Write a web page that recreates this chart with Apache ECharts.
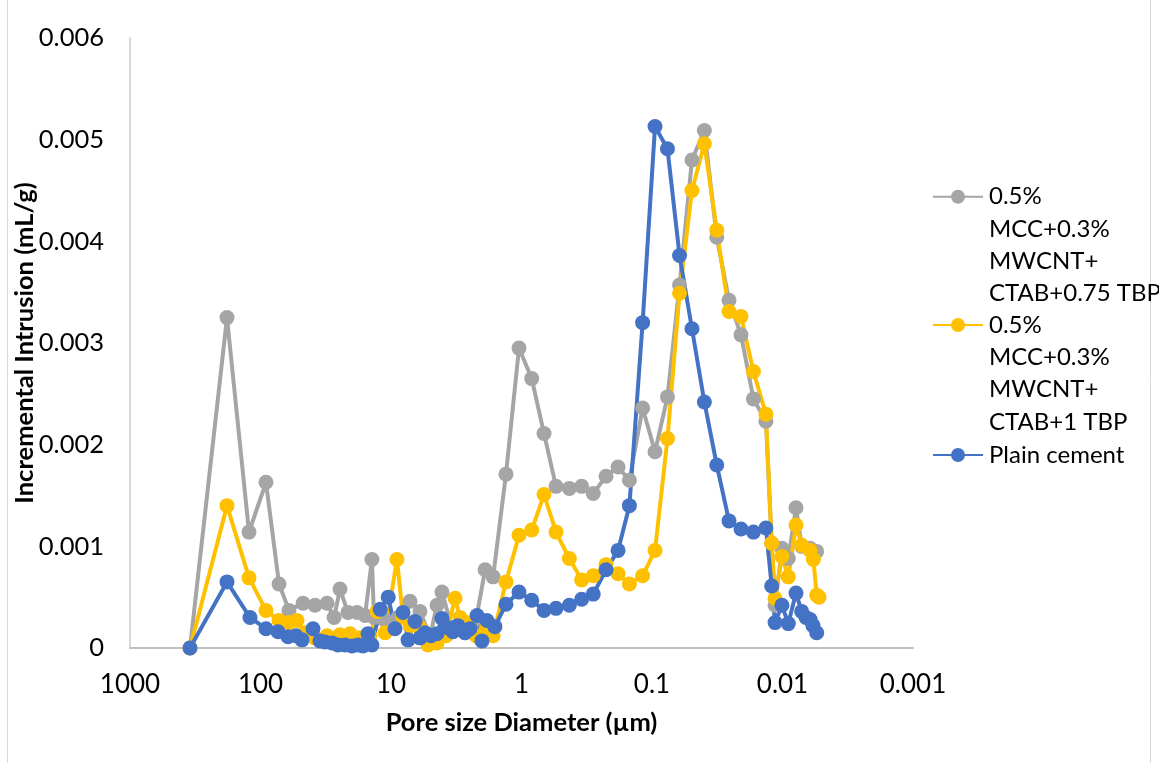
<!DOCTYPE html>
<html>
<head>
<meta charset="utf-8">
<script src="https://cdn.jsdelivr.net/npm/echarts@6/dist/echarts.min.js"></script>
<style>
  html, body { margin: 0; padding: 0; background: #fff; }
  #chart { width: 1159px; height: 763px; }
</style>
</head>
<body>
<div id="chart"></div>
<script>
// pore diameters (µm) and incremental intrusion (mL/g)
const grayDiameter = [347, 180.6, 122.5, 90.8, 72.1, 60.5, 47.2, 38.2, 30.9, 27.3, 24.6, 21.4, 18.2, 15.8, 14.0, 13.5, 11.3, 8.84, 7.15, 6.0, 5.02, 4.44, 4.07, 3.41, 2.71, 2.23, 1.90, 1.65,
  1.315, 1.045, 0.835, 0.672, 0.544, 0.430, 0.346, 0.282, 0.225, 0.182, 0.149, 0.118, 0.0948, 0.0761, 0.0615, 0.0494, 0.0397, 0.0319, 0.0257, 0.0208, 0.0167, 0.0134,
  0.0121, 0.0114, 0.0101, 0.00903, 0.00788, 0.00713, 0.00615, 0.00547]
const grayValue = [0, 0.00325, 0.00114, 0.00163, 0.00063, 0.00037, 0.00044, 0.00042, 0.00044, 0.00030, 0.00058, 0.00035, 0.00035, 0.00032, 0.00087, 0.00030, 0.00028, 0.00030, 0.00046, 0.00036, 0.00012, 0.00042, 0.00055, 0.00020, 0.00015, 0.00028, 0.00077, 0.00070,
  0.00171, 0.00295, 0.00265, 0.00211, 0.00159, 0.00157, 0.00159, 0.00152, 0.00169, 0.00178, 0.00165, 0.00236, 0.00193, 0.00247, 0.00357, 0.00480, 0.00509, 0.00404, 0.00342, 0.00308, 0.00245, 0.00223,
  0.00103, 0.00042, 0.00098, 0.00088, 0.00138, 0.00100, 0.00098, 0.00095]

const yellowDiameter = [347, 180.6, 122.5, 90.8, 72.1, 60.5, 52.5, 45.6, 38.2, 30.9, 24.6, 20.6, 17.3, 14.5, 12.8, 11.1, 9.0, 8.09, 7.15, 6.0, 5.21, 4.44, 3.79, 3.23, 2.96, 2.66, 2.23, 1.87, 1.65,
  1.315, 1.045, 0.835, 0.672, 0.544, 0.430, 0.346, 0.282, 0.225, 0.182, 0.149, 0.118, 0.0948, 0.0761, 0.0615, 0.0494, 0.0397, 0.0319, 0.0257, 0.0208, 0.0167, 0.0134,
  0.0121, 0.0114, 0.0101, 0.00903, 0.00788, 0.00713, 0.00615, 0.0058, 0.00547, 0.00525]
const yellowValue = [0, 0.00140, 0.00069, 0.00037, 0.00027, 0.00025, 0.00027, 0.00015, 0.00010, 0.00012, 0.00013, 0.00014, 0.00010, 0.00012, 0.00036, 0.00015, 0.00087, 0.00030, 0.00022, 0.00020, 0.00003, 0.00005, 0.00012, 0.00049, 0.00030, 0.00025, 0.00012, 0.00018, 0.00012,
  0.00065, 0.00111, 0.00116, 0.00151, 0.00114, 0.00088, 0.00067, 0.00071, 0.00082, 0.00073, 0.00063, 0.00071, 0.00096, 0.00206, 0.00349, 0.00450, 0.00496, 0.00411, 0.00331, 0.00326, 0.00272, 0.00230,
  0.00103, 0.00049, 0.00090, 0.00070, 0.00121, 0.00101, 0.00096, 0.00087, 0.00052, 0.00050]

const blueDiameter = [347, 180.6, 120.4, 90.8, 73.4, 61.5, 53.5, 48.1, 39.6, 35.0, 32.0, 28.3, 25.5, 22.5, 19.9, 17.9, 16.4, 15.0, 14.0, 12.1, 10.5, 9.32, 8.09, 7.41, 6.55, 6.0, 5.49, 4.94, 4.44, 4.07, 3.66, 3.35, 3.07, 2.71, 2.48, 2.19, 2.01, 1.84, 1.60,
  1.315, 1.045, 0.835, 0.672, 0.544, 0.430, 0.346, 0.282, 0.225, 0.182, 0.149, 0.118, 0.0948, 0.0761, 0.0615, 0.0494, 0.0397, 0.0319, 0.0257, 0.0208, 0.0167, 0.0134,
  0.0121, 0.0114, 0.0101, 0.00903, 0.00788, 0.00713, 0.00661, 0.00615, 0.00584, 0.00547]
const blueValue = [0, 0.00065, 0.00030, 0.00019, 0.00016, 0.00011, 0.00012, 0.00008, 0.00019, 0.00007, 0.00006, 0.00005, 0.00003, 0.00003, 0.00002, 0.00003, 0.00002, 0.00014, 0.00003, 0.00038, 0.00050, 0.00019, 0.00035, 0.00008, 0.00026, 0.00010, 0.00015, 0.00012, 0.00014, 0.00029, 0.00020, 0.00016, 0.00022, 0.00015, 0.00019, 0.00032, 0.00007, 0.00027, 0.00021,
  0.00043, 0.00055, 0.00047, 0.00037, 0.00039, 0.00042, 0.00048, 0.00053, 0.00077, 0.00096, 0.00140, 0.00320, 0.00513, 0.00491, 0.00386, 0.00314, 0.00242, 0.00180, 0.00125, 0.00117, 0.00114, 0.00118,
  0.00061, 0.00025, 0.00042, 0.00024, 0.00054, 0.00036, 0.00030, 0.00028, 0.00022, 0.00015]

const seriesNames = ['0.5% MCC+0.3% MWCNT+ CTAB+0.75 TBP', '0.5% MCC+0.3% MWCNT+ CTAB+1 TBP', 'Plain cement']
const legendLines = [
  ['0.5%', 'MCC+0.3%', 'MWCNT+', 'CTAB+0.75 TBP'],
  ['0.5%', 'MCC+0.3%', 'MWCNT+', 'CTAB+1 TBP'],
  ['Plain cement']
]
const xTickLabels = ['1000', '100', '10', '1', '0.1', '0.01', '0.001']
const colorList = ['#A5A5A5', '#FFC000', '#4472C4']

const fontFamily = 'Lato, "Open Sans", sans-serif'
const lineH = 32.3

function pairs (xs, ys) {
  return xs.map((x, i) => [x, ys[i]])
}

function makeSeries (idx, xs, ys) {
  return {
    name: seriesNames[idx],
    type: 'line',
    data: pairs(xs, ys),
    symbol: 'circle',
    symbolSize: 15,
    showAllSymbol: true,
    smooth: false,
    lineStyle: { width: 4, color: colorList[idx] },
    itemStyle: { color: colorList[idx] },
    emphasis: { disabled: true }
  }
}

// one legend per item so the marker sits on the first wrapped line
function makeLegend (idx, iconCenterY) {
  const lines = legendLines[idx]
  const pad = lines.length - 1
  const blockH = (lines.length + pad) * lineH
  return {
    data: [seriesNames[idx]],
    orient: 'vertical',
    left: 932,
    top: iconCenterY - blockH / 2,
    padding: 0,
    itemWidth: 50,
    itemHeight: 17.5,
    itemGap: 0,
    selectedMode: false,
    formatter: function () {
      return '\n'.repeat(pad) + lines.join('\n')
    },
    textStyle: {
      fontFamily: fontFamily,
      fontSize: 24,
      lineHeight: lineH,
      color: '#000',
      padding: [0, 0, 0, 1]
    }
  }
}

const chart = echarts.init(document.getElementById('chart'))
chart.setOption({
  animation: false,
  color: colorList,
  grid: { left: 130, top: 38, width: 783, height: 610, containLabel: false, outerBoundsMode: 'none' },
  legend: [makeLegend(0, 196.7), makeLegend(1, 325), makeLegend(2, 455)],
  xAxis: {
    type: 'log',
    logBase: 10,
    min: 0.001,
    max: 1000,
    inverse: true,
    splitNumber: 6,
    name: 'Pore size Diameter (µm)',
    nameLocation: 'middle',
    nameGap: 62,
    nameTextStyle: { fontFamily: fontFamily, fontSize: 25.5, fontWeight: 'bold', color: '#000' },
    axisLine: { show: true, onZero: false, lineStyle: { color: '#BFBFBF', width: 2 } },
    axisTick: { show: false },
    splitLine: { show: false },
    axisLabel: {
      margin: 24,
      fontFamily: fontFamily,
      fontSize: 26,
      color: '#000',
      formatter: function (v) {
        const e = Math.round(Math.log10(v))
        return xTickLabels[3 - e]
      }
    }
  },
  yAxis: {
    type: 'value',
    min: 0,
    max: 0.006,
    interval: 0.001,
    name: 'Incremental Intrusion (mL/g)',
    nameLocation: 'middle',
    nameGap: 92,
    nameMoveOverlap: false,
    nameTextStyle: { fontFamily: fontFamily, fontSize: 25.5, fontWeight: 'bold', color: '#000' },
    axisLine: { show: true, lineStyle: { color: '#D9D9D9', width: 2 } },
    axisTick: { show: false },
    splitLine: { show: false },
    axisLabel: {
      margin: 26,
      fontFamily: fontFamily,
      fontSize: 25.5,
      color: '#000',
      formatter: function (v) {
        return v === 0 ? '0' : v.toFixed(3)
      }
    }
  },
  graphic: [{
    type: 'rect',
    silent: true,
    shape: { x: 7.5, y: -5, width: 1143, height: 780 },
    style: { fill: 'none', stroke: '#D9D9D9', lineWidth: 1 }
  }],
  series: [
    makeSeries(0, grayDiameter, grayValue),
    makeSeries(1, yellowDiameter, yellowValue),
    makeSeries(2, blueDiameter, blueValue)
  ]
})
</script>
</body>
</html>
